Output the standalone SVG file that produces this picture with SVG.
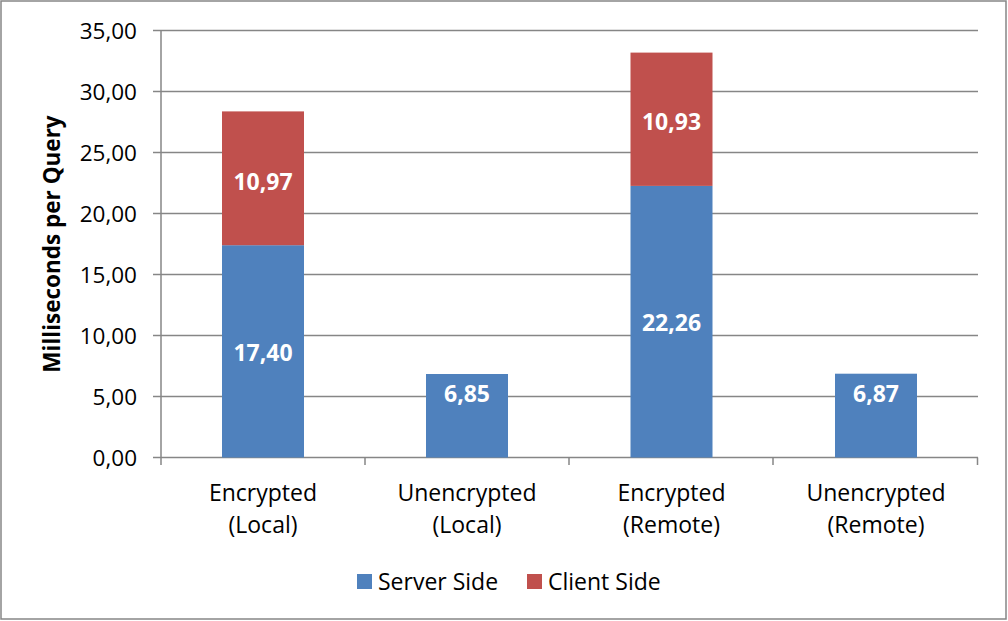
<svg xmlns="http://www.w3.org/2000/svg" width="1008" height="621" viewBox="0 0 1008 621">
<style>
.grid{stroke:#868686;stroke-width:1.5;fill:none}
.tick{font-family:"Open Sans","Liberation Sans",sans-serif;font-size:22.5px;fill:#000;text-anchor:end}
.cat{font-family:"Open Sans","Liberation Sans",sans-serif;font-size:23px;fill:#000;text-anchor:middle}
.val{font-family:"Open Sans","Liberation Sans",sans-serif;font-size:23px;font-weight:bold;fill:#fff;text-anchor:middle}
.leg{font-family:"Open Sans","Liberation Sans",sans-serif;font-size:23px;fill:#000}
.srv{fill:#4F81BD}
.cli{fill:#C0504D}
</style>
<rect x="1" y="1" width="1005" height="618" fill="#fff" stroke="#868686" stroke-width="1.5"/>
<g id="axes">
<path class="grid" d="M153 30.5H978M153 91.5H978M153 152.5H978M153 213.5H978M153 274.5H978M153 335.5H978M153 396.5H978M153 457.5H978"/>
<path class="grid" d="M161 30V458M161 457.5V465M365 457.5V465M569 457.5V465M773 457.5V465M977.5 457.5V465"/>
<text class="tick" x="137" y="39">35,00</text>
<text class="tick" x="137" y="100">30,00</text>
<text class="tick" x="137" y="161">25,00</text>
<text class="tick" x="137" y="222">20,00</text>
<text class="tick" x="137" y="283">15,00</text>
<text class="tick" x="137" y="344">10,00</text>
<text class="tick" x="137" y="405">5,00</text>
<text class="tick" x="137" y="466">0,00</text>
<text transform="translate(60 244) rotate(-90)" font-family="'Open Sans','Liberation Sans',sans-serif" font-size="22.5px" font-weight="bold" text-anchor="middle">Milliseconds per Query</text>
</g>
<g id="bar-enc-local">
<rect class="srv" x="222" y="245.2" width="82" height="212.3"/>
<rect class="cli" x="222" y="111.4" width="82" height="133.8"/>
<text class="val" x="263" y="361">17,40</text>
<text class="val" x="263" y="190">10,97</text>
<text class="cat" x="263" y="501">Encrypted</text>
<text class="cat" x="263" y="533">(Local)</text>
</g>
<g id="bar-unenc-local">
<rect class="srv" x="426" y="374" width="82" height="83.5"/>
<text class="val" x="467" y="402">6,85</text>
<text class="cat" x="467" y="501">Unencrypted</text>
<text class="cat" x="467" y="533">(Local)</text>
</g>
<g id="bar-enc-remote">
<rect class="srv" x="630.5" y="185.9" width="82" height="271.6"/>
<rect class="cli" x="630.5" y="52.6" width="82" height="133.3"/>
<text class="val" x="671.5" y="331">22,26</text>
<text class="val" x="671.5" y="130">10,93</text>
<text class="cat" x="671.5" y="501">Encrypted</text>
<text class="cat" x="671.5" y="533">(Remote)</text>
</g>
<g id="bar-unenc-remote">
<rect class="srv" x="835" y="373.7" width="82" height="83.8"/>
<text class="val" x="876" y="402">6,87</text>
<text class="cat" x="876" y="501">Unencrypted</text>
<text class="cat" x="876" y="533">(Remote)</text>
</g>
<g id="legend">
<rect class="srv" x="357" y="574" width="15" height="15"/>
<text class="leg" x="378" y="590">Server Side</text>
<rect class="cli" x="527" y="574" width="15" height="15"/>
<text class="leg" x="548" y="590">Client Side</text>
</g>
</svg>
